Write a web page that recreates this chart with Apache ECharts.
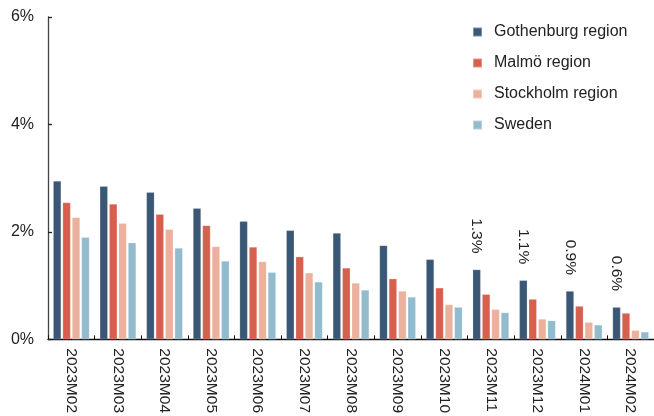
<!DOCTYPE html>
<html>
<head>
<meta charset="utf-8">
<script src="https://cdn.jsdelivr.net/npm/echarts@6/dist/echarts.min.js"></script>
<style>
  html, body { margin: 0; padding: 0; background: #fff; }
  #chart { width: 654px; height: 416px; }
</style>
</head>
<body>
<div id="chart"></div>
<script>
// Monthly periods on the category axis
const months = ['2023M02', '2023M03', '2023M04', '2023M05', '2023M06', '2023M07', '2023M08',
                '2023M09', '2023M10', '2023M11', '2023M12', '2024M01', '2024M02'];

// Values in percent, one array per region
const gothenburg = [2.95, 2.85, 2.74, 2.44, 2.20, 2.03, 1.98, 1.75, 1.49, 1.3, 1.1, 0.9, 0.6];
const malmo      = [2.55, 2.52, 2.33, 2.12, 1.72, 1.54, 1.33, 1.13, 0.96, 0.84, 0.75, 0.62, 0.49];
const stockholm  = [2.27, 2.16, 2.05, 1.73, 1.45, 1.24, 1.05, 0.90, 0.65, 0.56, 0.38, 0.32, 0.17];
const sweden     = [1.90, 1.80, 1.70, 1.46, 1.25, 1.07, 0.92, 0.79, 0.60, 0.50, 0.35, 0.27, 0.14];

const seriesNames = ['Gothenburg region', 'Malmö region', 'Stockholm region', 'Sweden'];
const colors = ['#3b5776', '#d6604d', '#ecb19d', '#92bbce'];

// Value labels are shown on the Gothenburg bars of the last four months
const labelledFrom = 9;

const FONT = 'Liberation Sans, Arial, sans-serif';

function makeSeries(name, values, color, withLabels) {
  return {
    name: name,
    type: 'bar',
    barGap: '17%',
    barCategoryGap: '22%',
    itemStyle: { color: color, borderColor: 'rgba(255,255,255,0.35)', borderWidth: 0.6 },
    data: values.map(function (v, i) {
      const item = { value: v };
      if (withLabels && i >= labelledFrom) {
        item.label = {
          show: true,
          position: 'top',
          rotate: -90,
          align: 'right',
          verticalAlign: 'middle',
          distance: 16,
          fontFamily: FONT,
          fontSize: 15.5,
          color: '#222',
          formatter: function (p) { return p.value.toFixed(1) + '%'; }
        };
      }
      return item;
    })
  };
}

const chart = echarts.init(document.getElementById('chart'), null, { renderer: 'canvas' });

chart.setOption({
  animation: false,
  backgroundColor: '#fff',
  color: colors,
  grid: { left: 48, right: -2, top: 17, bottom: 76, containLabel: false },
  legend: {
    orient: 'vertical',
    left: 467,
    top: 19,
    itemWidth: 9,
    itemHeight: 9,
    itemGap: 15,
    icon: 'rect',
    data: seriesNames,
    textStyle: {
      fontFamily: FONT,
      fontSize: 16,
      color: '#222',
      lineHeight: 16,
      padding: [0, 0, 0, 7]
    }
  },
  xAxis: {
    type: 'category',
    data: months,
    axisLine: { lineStyle: { color: '#111', width: 1.3 } },
    axisTick: { show: true, inside: true, length: 4, lineStyle: { color: '#111' } },
    axisLabel: {
      rotate: -90,
      margin: 9,
      fontFamily: FONT,
      fontSize: 15.5,
      color: '#222'
    }
  },
  yAxis: {
    type: 'value',
    min: 0,
    max: 6,
    interval: 2,
    splitLine: { show: false },
    axisLine: { show: true, lineStyle: { color: '#444', width: 1.3 } },
    axisTick: { show: true, inside: true, length: 4, lineStyle: { color: '#222', width: 1.3 } },
    axisLabel: {
      margin: 14,
      fontFamily: FONT,
      fontSize: 16,
      color: '#222',
      formatter: function (v) { return v + '%'; }
    }
  },
  series: [
    makeSeries(seriesNames[0], gothenburg, colors[0], true),
    makeSeries(seriesNames[1], malmo, colors[1], false),
    makeSeries(seriesNames[2], stockholm, colors[2], false),
    makeSeries(seriesNames[3], sweden, colors[3], false)
  ]
});
</script>
</body>
</html>
